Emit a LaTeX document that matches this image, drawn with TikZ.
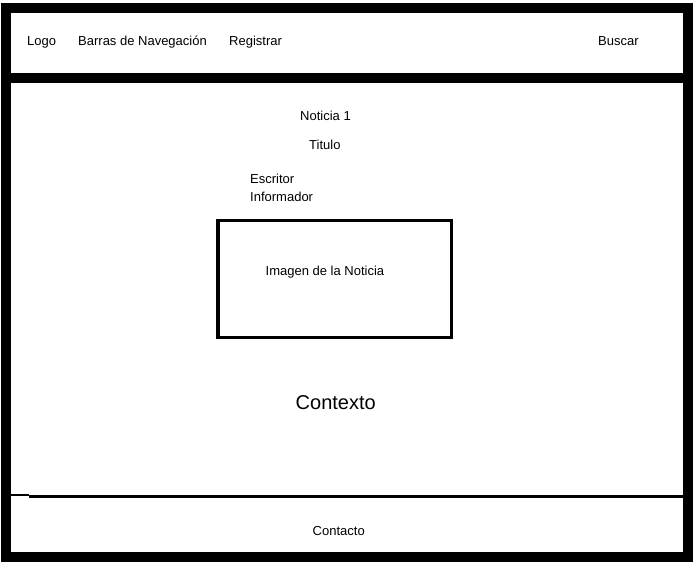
\documentclass[tikz,border=0pt]{standalone}
\usepackage{fontspec}
\setmainfont{Liberation Sans}
\begin{document}
\begin{tikzpicture}[x=1pt,y=-1pt,
  lbl/.style={inner sep=0pt,anchor=base west,font=\fontsize{13}{18}\selectfont},
  big/.style={inner sep=0pt,anchor=base west,font=\fontsize{20}{24}\selectfont},
  frame/.style={line width=10pt},
  imgbox/.style={draw,line width=3.5pt,minimum width=233.5pt,minimum height=116.5pt,inner sep=0pt}]
\useasboundingbox (0,0) rectangle (696,564);
\fill[white] (0,0) rectangle (696,564);
% outer frame and header separator
\draw[frame] (6,8.5) rectangle (688,557);
\draw[frame] (1,78) -- (693,78);
% footer separator
\draw[line width=2pt] (11,494.5) -- (29,494.5);
\draw[line width=3pt] (29,496.2) -- (683,496.2);
% header
\node[lbl] (logo) at (27,46) {Logo};
\node[lbl] (nav) at (78,46) {Barras de Navegación};
\node[lbl] (reg) at (229,46) {Registrar};
\node[lbl] (bus) at (598,46) {Buscar};
% content
\node[lbl] (not) at (300,120.5) {Noticia 1};
\node[lbl] (tit) at (309,150) {Titulo};
\node[lbl] (esc) at (250,184) {Escritor};
\node[lbl] (inf) at (250,201.5) {Informador};
\node[imgbox] (img) at (334.5,279) {};
\node[lbl] (imgt) at (265.5,275) {Imagen de la Noticia};
\node[big] (ctx) at (295.5,409.5) {Contexto};
% footer
\node[lbl] (con) at (312.5,535) {Contacto};
\end{tikzpicture}
\end{document}
